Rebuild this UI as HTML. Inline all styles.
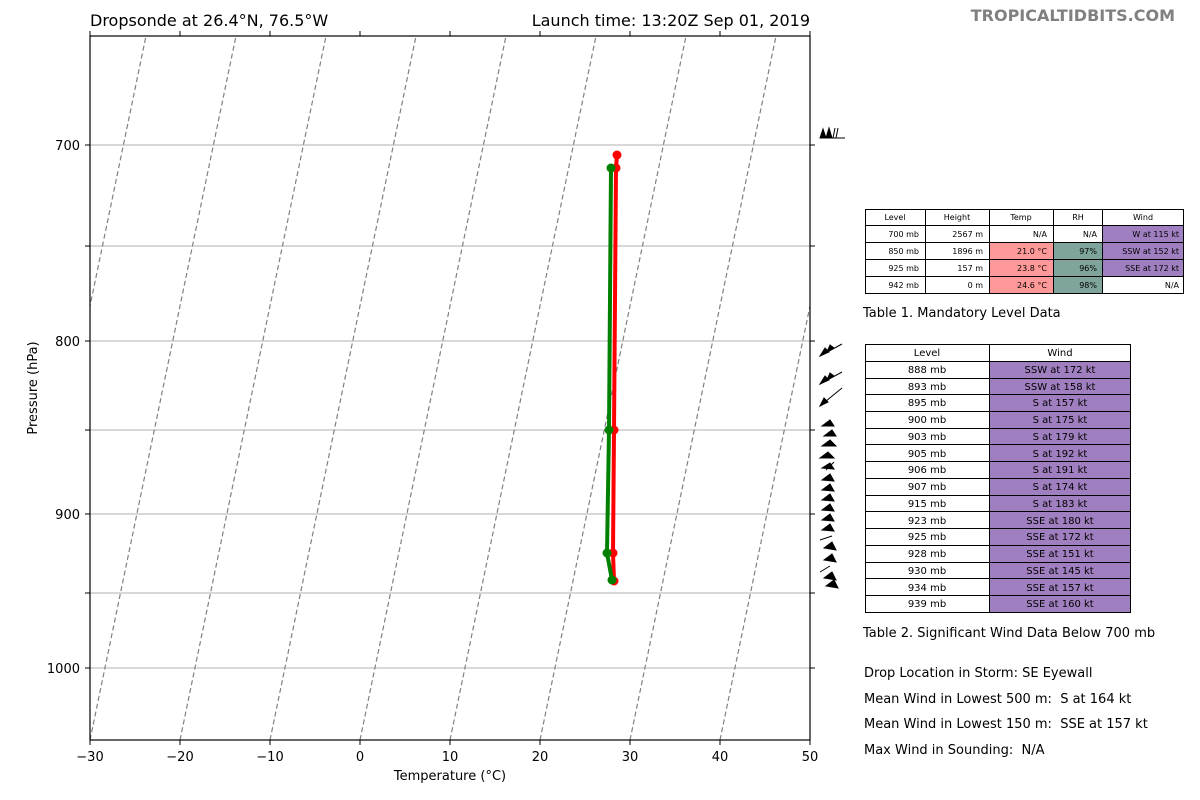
<!DOCTYPE html>
<html><head><meta charset="utf-8"><style>
html,body{margin:0;padding:0;background:#fff;overflow:hidden;width:1200px;height:800px;}
svg{display:block;}
svg text{font-family:"DejaVu Sans","Liberation Sans",sans-serif;}
</style></head><body>
<svg width="1200" height="800" viewBox="0 0 1200 800" xmlns="http://www.w3.org/2000/svg">
<rect width="1200" height="800" fill="#fff"/>
<defs><clipPath id="c"><rect x="90" y="36" width="720" height="704"/></clipPath></defs>
<g stroke="#c0c0c0" stroke-width="1.3">
<line x1="90" y1="145" x2="810" y2="145"/><line x1="90" y1="246" x2="810" y2="246"/>
<line x1="90" y1="341" x2="810" y2="341"/><line x1="90" y1="430" x2="810" y2="430"/>
<line x1="90" y1="514" x2="810" y2="514"/><line x1="90" y1="593" x2="810" y2="593"/>
<line x1="90" y1="668" x2="810" y2="668"/>
</g>
<g clip-path="url(#c)" stroke="#808080" stroke-width="1.2" stroke-dasharray="5,3" fill="none">
<line x1="0" y1="740" x2="146" y2="36"/>
<line x1="90" y1="740" x2="236" y2="36"/>
<line x1="180" y1="740" x2="326" y2="36"/>
<line x1="270" y1="740" x2="416" y2="36"/>
<line x1="360" y1="740" x2="506" y2="36"/>
<line x1="450" y1="740" x2="596" y2="36"/>
<line x1="540" y1="740" x2="686" y2="36"/>
<line x1="630" y1="740" x2="776" y2="36"/>
<line x1="720" y1="740" x2="866" y2="36"/>
</g>
<g stroke="#000" stroke-width="1.2" fill="none">
<rect x="90" y="36" width="720" height="704"/>
</g>
<g stroke="#000" stroke-width="1">
<line x1="85" y1="145" x2="90" y2="145"/><line x1="85" y1="246" x2="90" y2="246"/><line x1="85" y1="341" x2="90" y2="341"/><line x1="85" y1="430" x2="90" y2="430"/><line x1="85" y1="514" x2="90" y2="514"/><line x1="85" y1="593" x2="90" y2="593"/><line x1="85" y1="668" x2="90" y2="668"/>
<line x1="810" y1="145" x2="815" y2="145"/><line x1="810" y1="246" x2="815" y2="246"/><line x1="810" y1="341" x2="815" y2="341"/><line x1="810" y1="430" x2="815" y2="430"/><line x1="810" y1="514" x2="815" y2="514"/><line x1="810" y1="593" x2="815" y2="593"/><line x1="810" y1="668" x2="815" y2="668"/>
<line x1="90" y1="740" x2="90" y2="745"/><line x1="180" y1="740" x2="180" y2="745"/><line x1="270" y1="740" x2="270" y2="745"/><line x1="360" y1="740" x2="360" y2="745"/><line x1="450" y1="740" x2="450" y2="745"/><line x1="540" y1="740" x2="540" y2="745"/><line x1="630" y1="740" x2="630" y2="745"/><line x1="720" y1="740" x2="720" y2="745"/><line x1="810" y1="740" x2="810" y2="745"/>
<line x1="90" y1="31" x2="90" y2="36"/><line x1="180" y1="31" x2="180" y2="36"/><line x1="270" y1="31" x2="270" y2="36"/><line x1="360" y1="31" x2="360" y2="36"/><line x1="450" y1="31" x2="450" y2="36"/><line x1="540" y1="31" x2="540" y2="36"/><line x1="630" y1="31" x2="630" y2="36"/><line x1="720" y1="31" x2="720" y2="36"/><line x1="810" y1="31" x2="810" y2="36"/>
</g>
<g font-size="13" fill="#000" text-anchor="end">
<text x="80" y="150">700</text><text x="80" y="346">800</text><text x="80" y="519">900</text><text x="80" y="673">1000</text>
</g>
<g font-size="13" fill="#000" text-anchor="middle">
<text x="90" y="761">−30</text><text x="180" y="761">−20</text><text x="270" y="761">−10</text><text x="360" y="761">0</text><text x="450" y="761">10</text><text x="540" y="761">20</text><text x="630" y="761">30</text><text x="720" y="761">40</text><text x="810" y="761">50</text>
<text x="450" y="780">Temperature (°C)</text>
<text transform="translate(37,388) rotate(-90)">Pressure (hPa)</text>
</g>
<text x="90" y="26" font-size="16">Dropsonde at 26.4°N, 76.5°W</text>
<text x="810" y="26" font-size="16" text-anchor="end">Launch time: 13:20Z Sep 01, 2019</text>
<text x="1175" y="21" font-size="16" font-weight="bold" fill="#808080" text-anchor="end">TROPICALTIDBITS.COM</text>
<polyline points="617,155 616,168 614,430 613,553 614,581" fill="none" stroke="#ff0000" stroke-width="4"/>
<polyline points="611,168 609,430 607,553 612,580" fill="none" stroke="#008000" stroke-width="4"/>
<g fill="#ff0000"><circle cx="617" cy="155" r="4.5"/><circle cx="616" cy="168" r="4.5"/><circle cx="614" cy="430" r="4.5"/><circle cx="613" cy="553" r="4.5"/><circle cx="614" cy="581" r="4.5"/></g>
<g fill="#008000"><circle cx="611" cy="168" r="4.5"/><circle cx="609" cy="430" r="4.5"/><circle cx="607" cy="553" r="4.5"/><circle cx="612" cy="580" r="4.5"/></g>
<g fill="#000" stroke="#000" stroke-width="1">
<line x1="820" y1="138" x2="845" y2="138"/><polygon points="820,138 823,129 826,138"/><polygon points="826,138 829,128 832,138"/><line x1="833" y1="138" x2="835" y2="128"/><line x1="836" y1="138" x2="838" y2="128"/>
<line x1="820" y1="356" x2="842" y2="344"/><polygon points="820,356 825,348 829,352"/><polygon points="827,352 830,345 834,348"/>
<line x1="820" y1="384" x2="842" y2="372"/><polygon points="820,384 825,376 829,380"/><polygon points="827,380 830,373 834,376"/>
<line x1="820" y1="406" x2="842" y2="388"/><polygon points="820,406 824,398 828,402"/>
<polygon points="822,426 830,420 834,426"/><polygon points="824,436 832,430 836,436"/><polygon points="822,446 830,440 836,446"/><polygon points="820,458 828,452 834,458"/>
<line x1="826" y1="470" x2="834" y2="462"/><polygon points="822,468 830,463 834,469"/><polygon points="822,480 830,474 834,481"/><polygon points="822,490 830,484 834,491"/><polygon points="822,500 830,494 834,501"/><polygon points="822,510 830,504 834,511"/><polygon points="822,520 830,514 834,521"/><polygon points="822,530 830,524 834,531"/>
<line x1="820" y1="540" x2="832" y2="536"/><polygon points="824,548 832,542 836,550"/><polygon points="824,560 832,554 836,562"/>
<line x1="820" y1="572" x2="830" y2="566"/><polygon points="824,578 832,572 836,580"/><polygon points="826,586 834,580 838,588"/>
</g>
<g font-size="8" fill="#000">
<rect x="989" y="242" width="64" height="51" fill="#ff9999"/>
<rect x="1053" y="242" width="49" height="51" fill="#7fa49c"/>
<rect x="1102" y="225" width="82" height="51" fill="#a07fc0"/>
<g stroke="#000" stroke-width="1" fill="none">
<rect x="865.5" y="209.5" width="318" height="84"/>
<line x1="865" y1="225.5" x2="1184" y2="225.5"/><line x1="865" y1="242.5" x2="1184" y2="242.5"/><line x1="865" y1="259.5" x2="1184" y2="259.5"/><line x1="865" y1="276.5" x2="1184" y2="276.5"/>
<line x1="925.5" y1="209" x2="925.5" y2="293"/><line x1="989.5" y1="209" x2="989.5" y2="293"/><line x1="1053.5" y1="209" x2="1053.5" y2="293"/><line x1="1102.5" y1="209" x2="1102.5" y2="293"/>
</g>
<g text-anchor="middle"><text x="895" y="220">Level</text><text x="957" y="220">Height</text><text x="1021" y="220">Temp</text><text x="1078" y="220">RH</text><text x="1143" y="220">Wind</text></g>
<g text-anchor="end">
<text x="919" y="237">700 mb</text><text x="983" y="237">2567 m</text><text x="1047" y="237">N/A</text><text x="1097" y="237">N/A</text><text x="1179" y="237">W at 115 kt</text>
<text x="919" y="254">850 mb</text><text x="983" y="254">1896 m</text><text x="1047" y="254">21.0 °C</text><text x="1097" y="254">97%</text><text x="1179" y="254">SSW at 152 kt</text>
<text x="919" y="271">925 mb</text><text x="983" y="271">157 m</text><text x="1047" y="271">23.8 °C</text><text x="1097" y="271">96%</text><text x="1179" y="271">SSE at 172 kt</text>
<text x="919" y="288">942 mb</text><text x="983" y="288">0 m</text><text x="1047" y="288">24.6 °C</text><text x="1097" y="288">98%</text><text x="1179" y="288">N/A</text>
</g>
</g>
<text x="863" y="317" font-size="13">Table 1. Mandatory Level Data</text>
<g font-size="10" fill="#000" text-anchor="middle">
<rect x="989" y="361" width="142" height="252" fill="#a07fc0"/>
<g stroke="#000" stroke-width="1" fill="none">
<rect x="865.5" y="344.5" width="265" height="268"/>
<line x1="989.5" y1="344" x2="989.5" y2="613"/>
<path d="M865 361.5H1131M865 378.5H1131M865 394.5H1131M865 411.5H1131M865 428.5H1131M865 444.5H1131M865 461.5H1131M865 478.5H1131M865 495.5H1131M865 511.5H1131M865 528.5H1131M865 545.5H1131M865 562.5H1131M865 578.5H1131M865 595.5H1131"/>
</g>
<text x="927" y="356">Level</text><text x="1060" y="356">Wind</text>
<text x="927" y="373">888 mb</text><text x="1060" y="373">SSW at 172 kt</text>
<text x="927" y="390">893 mb</text><text x="1060" y="390">SSW at 158 kt</text>
<text x="927" y="406">895 mb</text><text x="1060" y="406">S at 157 kt</text>
<text x="927" y="423">900 mb</text><text x="1060" y="423">S at 175 kt</text>
<text x="927" y="440">903 mb</text><text x="1060" y="440">S at 179 kt</text>
<text x="927" y="457">905 mb</text><text x="1060" y="457">S at 192 kt</text>
<text x="927" y="473">906 mb</text><text x="1060" y="473">S at 191 kt</text>
<text x="927" y="490">907 mb</text><text x="1060" y="490">S at 174 kt</text>
<text x="927" y="507">915 mb</text><text x="1060" y="507">S at 183 kt</text>
<text x="927" y="524">923 mb</text><text x="1060" y="524">SSE at 180 kt</text>
<text x="927" y="540">925 mb</text><text x="1060" y="540">SSE at 172 kt</text>
<text x="927" y="557">928 mb</text><text x="1060" y="557">SSE at 151 kt</text>
<text x="927" y="574">930 mb</text><text x="1060" y="574">SSE at 145 kt</text>
<text x="927" y="591">934 mb</text><text x="1060" y="591">SSE at 157 kt</text>
<text x="927" y="607">939 mb</text><text x="1060" y="607">SSE at 160 kt</text>
</g>
<g font-size="13" fill="#000">
<text x="863" y="637">Table 2. Significant Wind Data Below 700 mb</text>
<text x="864" y="677">Drop Location in Storm: SE Eyewall</text>
<text x="864" y="703">Mean Wind in Lowest 500 m:&#160; S at 164 kt</text>
<text x="864" y="728">Mean Wind in Lowest 150 m:&#160; SSE at 157 kt</text>
<text x="864" y="754">Max Wind in Sounding:&#160; N/A</text>
</g>
</svg>
</body></html>
